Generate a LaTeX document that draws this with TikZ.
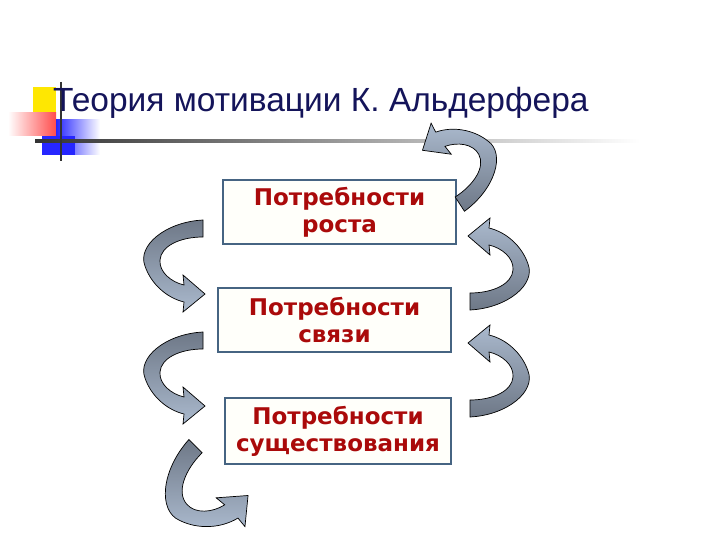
\documentclass[tikz,border=0pt]{standalone}
\usepackage{fontspec}
\setmainfont{DejaVu Sans}
\newfontfamily\titlefont{Liberation Sans}
\begin{document}
\begin{tikzpicture}[x=1pt,y=-1pt,
  box/.style={draw=boxc,line width=1.6pt,fill=fillc,minimum width=233pt,minimum height=64pt,align=center,inner sep=0pt,
    font=\fontsize{23}{27}\selectfont\bfseries,text=txtc},
  arrshape/.style={draw=black,line width=0.7pt,top color=arrdark,bottom color=arrlight},
  arrflip/.style={draw=black,line width=0.7pt,top color=arrlight,bottom color=arrdark}]
\definecolor{boxc}{RGB}{70,100,130}
\definecolor{fillc}{RGB}{255,255,250}
\definecolor{txtc}{RGB}{170,10,10}
\definecolor{arrdark}{RGB}{110,120,135}
\definecolor{arrlight}{RGB}{170,185,205}
\definecolor{titlec}{RGB}{20,20,90}
\useasboundingbox (0,0) rectangle (720,540);
\fill[white] (0,0) rectangle (720,540);
\newcommand\curvarrow[1]{%
  \path[#1] (28,-38) .. controls (-10,-36) and (-38,-12) .. (-30,8)
   .. controls (-24,26) and (-8,40) .. (9,44) -- (8,54) -- (30,36) -- (8,17) -- (9,27)
   .. controls (-4,24) and (-16,14) .. (-15,2)
   .. controls (-14,-12) and (5,-21) .. (28,-21) -- cycle;}
% title decoration
\fill[yellow!90!orange] (33,87) rectangle (56,115);
\shade[left color=white,right color=red!70] (8,113) rectangle (56,136);
\shade[left color=blue!85,right color=white] (56,120) rectangle (100,155);
\fill[blue!85] (42,136) rectangle (75,155);
\shade[left color=black!80,right color=white] (35,140) rectangle (640,142.5);
\draw[line width=1.6pt,black!80] (61,82) -- (61,161);
\node[anchor=base west,font=\titlefont\fontsize{33.5}{36}\selectfont,text=titlec,inner sep=0pt] (title) at (53,112) {Теория мотивации К. Альдерфера};
% boxes
\node[box] (b1) at (339.5,212) {Потребности\\роста};
\node[box] (b2) at (334.5,320) {Потребности\\связи};
\node[box,minimum width=226pt,minimum height=66pt] (b3) at (338,431) {Потребности\\существования};
% arrows left
\begin{scope}[shift={(175,258)}]\curvarrow{arrshape}\end{scope}
\begin{scope}[shift={(175,370)}]\curvarrow{arrshape}\end{scope}
\begin{scope}[shift={(222,471)},rotate=45,scale=1.1]\begin{scope}[shift={(-29,-3.5)}]\curvarrow{arrshape}\end{scope}\end{scope}
% arrows right
\begin{scope}[shift={(498,272)},rotate=180]\curvarrow{arrflip}\end{scope}
\begin{scope}[shift={(498,379)},rotate=180]\curvarrow{arrflip}\end{scope}
\begin{scope}[shift={(441,177)},rotate=213]\begin{scope}[shift={(-29,-3.5)}]\curvarrow{arrflip}\end{scope}\end{scope}
\end{tikzpicture}
\end{document}
